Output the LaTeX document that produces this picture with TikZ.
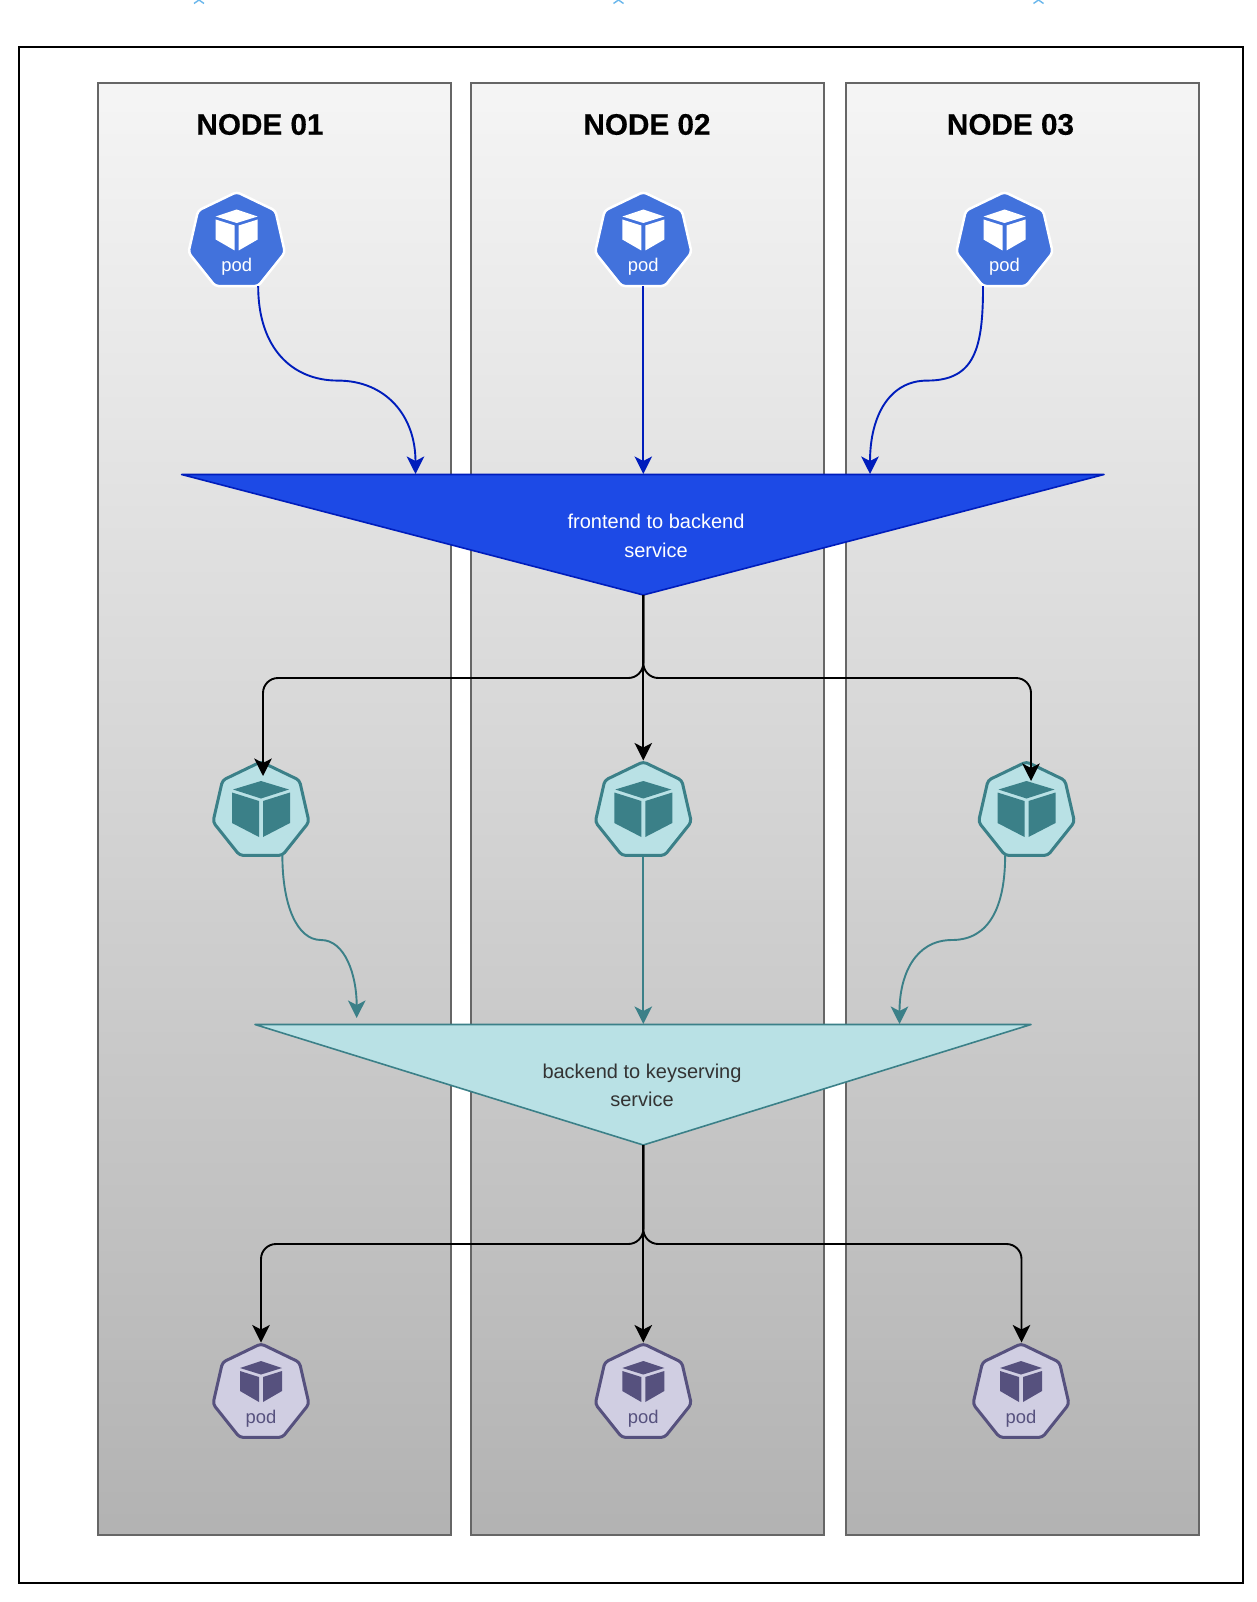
\documentclass[tikz,border=0pt]{standalone}
\usepackage{fontspec}
\setmainfont{Liberation Sans}
\newfontfamily\titlefont[BoldFeatures={FakeBold=0.35}]{Liberation Sans}
\usetikzlibrary{arrows.meta,shapes.geometric,calc}
\definecolor{podblue}{HTML}{4272DC}
\definecolor{triblue}{HTML}{1D4AE6}
\definecolor{edgeblue}{HTML}{001DBC}
\definecolor{tealfill}{HTML}{B9E1E5}
\definecolor{tealedge}{HTML}{3B8088}
\definecolor{purfill}{HTML}{D0CEE2}
\definecolor{puredge}{HTML}{56517E}
\definecolor{markblue}{HTML}{6AB7EC}
\tikzset{
 x=1pt,y=-1pt,
 nodebox/.style={draw=black!60,line width=2pt,top color=black!4,bottom color=black!30},
 nodetitle/.style={font=\fontsize{29.7}{32}\selectfont\titlefont\bfseries,text=black,inner sep=0pt},
 hepta/.style={regular polygon,regular polygon sides=7,minimum size=#1,inner sep=0pt,outer sep=0pt,line width=2.5pt},
 bluepod/.style={hepta=99pt,rounded corners=3.5pt,fill=podblue,draw=white},
 tealpod/.style={hepta=98.5pt,rounded corners=3.5pt,line width=3pt,fill=tealfill,draw=tealedge},
 purpod/.style={hepta=98.5pt,rounded corners=3.5pt,line width=3pt,fill=purfill,draw=puredge},
 podtext/.style={font=\fontsize{18.4}{20}\selectfont,inner sep=0pt},
 tritext/.style={font=\fontsize{20}{28.5}\selectfont,align=center,inner sep=0pt},
 link/.style={line width=1.9pt,-{Stealth[length=17.5pt,width=17.5pt,inset=4.5pt]}},
 bluelink/.style={link,draw=edgeblue},
 teallink/.style={link,draw=tealedge},
 blacklink/.style={link,draw=black,rounded corners=15pt},
}
\newcommand{\smallcube}[2]{\begin{scope}[shift={(#1)}]
 \fill[#2] (0,-32)--(21,-25)--(0,-18.5)--(-21,-25)--cycle;
 \fill[#2] (-21,-22)--(-2,-16)--(-2,9)--(-21,-2)--cycle;
 \fill[#2] (2,-16)--(21,-22)--(21,-2)--(2,9)--cycle;
\end{scope}}
\newcommand{\bigcube}[2]{\begin{scope}[shift={(#1)},yshift=-2pt]
 \fill[#2] (0,-32)--(28,-23.5)--(0,-14.5)--(-28,-23.5)--cycle;
 \fill[#2] (-29,-20.5)--(-2,-12)--(-2,24)--(-29,10)--cycle;
 \fill[#2] (2,-12)--(29,-20.5)--(29,10)--(2,24)--cycle;
\end{scope}}
\begin{document}
\begin{tikzpicture}
\useasboundingbox (0,0) rectangle (1256,1602);
\fill[white] (0,0) rectangle (1256,1602);
% cut-off markers at the top edge
\foreach \mx in {199,618.5,1038.5}{
 \draw[color=markblue,line width=1.4pt] (\mx-5,3.5)--(\mx,0)--(\mx+5,3.5);
}
\draw[black,line width=2.5pt] (19,47) rectangle (1243,1583);
\path[nodebox] (98,83) rectangle (451,1535);
\path[nodebox] (471,83) rectangle (824,1535);
\path[nodebox] (845.5,83) rectangle (1198.5,1535);
\node[nodetitle] (t1) at (260,124.5) {NODE 01};
\node[nodetitle] (t2) at (647,124.5) {NODE 02};
\node[nodetitle] (t3) at (1010.5,124.5) {NODE 03};
% triangles
\coordinate (bl) at (181.6,474.5);\coordinate (br) at (1104,474.5);\coordinate (bb) at (643.3,595);
\coordinate (kl) at (255,1024.5);\coordinate (kr) at (1031,1024.5);\coordinate (kb) at (643.3,1145);
\path[fill=triblue,draw=edgeblue,line width=1.6pt,line join=round] (bl)--(br)--(bb)--cycle;
\path[fill=tealfill,draw=tealedge,line width=1.6pt,line join=round] (kl)--(kr)--(kb)--cycle;
\node[tritext,text=white] (bt) at (656,536) {frontend to backend\\service};
\node[tritext,text=black!80] (kt) at (642,1085.5) {backend to keyserving\\service};
\coordinate (be1) at (415.5,474);\coordinate (be2) at (643.3,474);\coordinate (be3) at (870,474);
\coordinate (ke1) at (356.7,1018);\coordinate (ke2) at (643.3,1024);\coordinate (ke3) at (899.5,1024);
% pods
\node[bluepod] (a1) at (236.7,241.5) {};
\node[bluepod] (a2) at (643.3,241.5) {};
\node[bluepod] (a3) at (1004.5,241.5) {};
\node[tealpod] (m1) at (261,811) {};
\node[tealpod] (m2) at (643.3,811) {};
\node[tealpod] (m3) at (1026.5,811) {};
\node[purpod] (c1) at (261,1393) {};
\node[purpod] (c2) at (643.3,1393) {};
\node[purpod] (c3) at (1021,1393) {};
\smallcube{a1}{white}\smallcube{a2}{white}\smallcube{a3}{white}
\bigcube{m1}{tealedge}\bigcube{m2}{tealedge}\bigcube{m3}{tealedge}
\smallcube{c1}{puredge}\smallcube{c2}{puredge}\smallcube{c3}{puredge}
\foreach \n in {a1,a2,a3}{\node[podtext,text=white] (l\n) at ($(\n)+(0,25.5)$) {pod};}
\foreach \n in {c1,c2,c3}{\node[podtext,text=puredge] (l\n) at ($(\n)+(0,26)$) {pod};}
% blue curved links
\draw[bluelink] (a1.corner 5) .. controls ($(a1.corner 5)+(0,62)$) and (292,380.6) .. (338,380.6) .. controls (385,380.6) and (415.5,415) .. (be1);
\draw[bluelink] (a2.south) -- (be2);
\draw[bluelink] (a3.corner 4) .. controls ($(a3.corner 4)+(0,62)$) and (975,380.6) .. (927,380.6) .. controls (890,380.6) and (870,415) .. (be3);
% black links
\coordinate (me1) at (263,776);\coordinate (me2) at (643.3,760.5);\coordinate (me3) at (1031,781);
\draw[blacklink] (bb) |- (263,678) -- (me1);
\draw[blacklink] (bb) -- (me2);
\draw[blacklink] (bb) |- (1031,678) -- (me3);
% teal curved links
\draw[teallink] (m1.corner 5) .. controls ($(m1.corner 5)+(0,50)$) and (297,940) .. (321,940) .. controls (345,940) and (356.7,975) .. (ke1);
\draw[teallink] (m2.south) -- (ke2);
\draw[teallink] (m3.corner 4) .. controls ($(m3.corner 4)+(0,50)$) and (990,940) .. (952,940) .. controls (915,940) and (899.5,975) .. (ke3);
% black links, lower
\coordinate (ce1) at (261,1342.5);\coordinate (ce2) at (643.3,1342.5);\coordinate (ce3) at (1021.5,1342.5);
\draw[blacklink] (kb) |- (261,1244) -- (ce1);
\draw[blacklink] (kb) -- (ce2);
\draw[blacklink] (kb) |- (1021.5,1244) -- (ce3);
\end{tikzpicture}
\end{document}
